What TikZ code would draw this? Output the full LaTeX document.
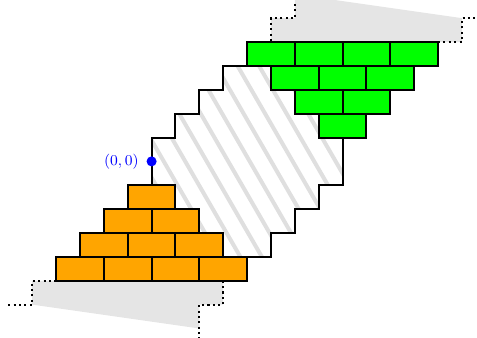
\documentclass[tikz,border=0pt]{standalone}
\usetikzlibrary{positioning}
\definecolor{brickorange}{HTML}{FFA500}
\definecolor{brickgreen}{HTML}{00FF00}
\begin{document}
\begin{tikzpicture}[x=0.5cm, y=0.5cm,
		brick/.style={draw=black, very thick},
		shade/.style={fill=gray!20},
		edge/.style={very thick, dotted},
		dot/.style={circle, fill=blue, inner sep=0pt, minimum size=6pt}]
		\clip (-6.35,-7.39) rectangle (13.63,6.76);
		% grey shadows
		\fill[shade] (5,5)--(5,6)--(6,6)--(6,7)--(13,6)--(13,5)--cycle;
		\fill[shade] (3,-5)--(3,-6)--(2,-6)--(2,-7)--(-5,-6)--(-5,-5)--cycle;
		\draw[edge] (6,7.5)--(6,6)--(5,6)--(5,5);
		\draw[edge] (12,5)--(13,5)--(13,6)--(14,6);
		\draw[edge] (-6,-6)--(-5,-6)--(-5,-5)--(-4,-5);
		\draw[edge] (3,-5)--(3,-6)--(2,-6)--(2,-7.5);
		% hatched strip
		\begin{scope}
			\clip (0,-1)--(0,1)--(1,1)--(1,2)--(2,2)--(2,3)--(3,3)--(3,4)--(5,4)--(5,3)--(6,3)--(6,2)--(7,2)--(7,1)--(8,1)
			--(8,-1)--(7,-1)--(7,-2)--(6,-2)--(6,-3)--(5,-3)--(5,-4)--(3,-4)--(3,-3)--(2,-3)--(2,-2)--(1,-2)--(1,-1)--cycle;
			\foreach \k in {-8,...,12}
				\draw[gray!25, line width=2.4pt] (0.51+0.9*\k,0) ++(120:12) -- ++(-60:24);
		\end{scope}
		\draw[very thick] (0,-1)--(0,1)--(1,1)--(1,2)--(2,2)--(2,3)--(3,3)--(3,4)--(4,4);
		\draw[very thick] (8,1)--(8,-1)--(7,-1)--(7,-2)--(6,-2)--(6,-3)--(5,-3)--(5,-4)--(4,-4);
		% bricks
		\foreach \r in {1,...,4}{
			\pgfmathtruncatemacro{\last}{\r-1}
			\foreach \j in {0,...,\last}{
				\draw[brick, fill=brickorange] (-\r+2*\j,-\r-1) rectangle ++(2,1);
				\draw[brick, fill=brickgreen] (8-\r+2*\j,\r) rectangle ++(2,1);
			}
		}
		% origin
		\node[dot, label={[text=blue, font=\small, label distance=1pt]left:$(0,0)$}] (origin) at (0,0) {};
	\end{tikzpicture}
\end{document}
